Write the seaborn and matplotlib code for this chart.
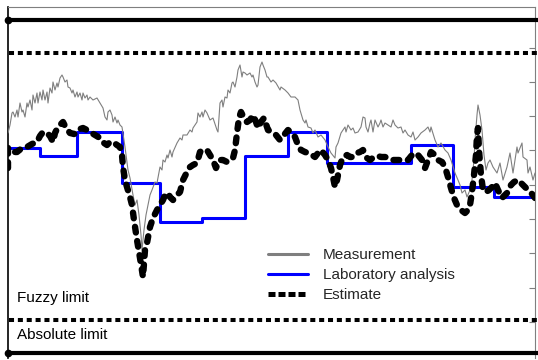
import numpy as np
import pandas as pd
import seaborn as sns
import matplotlib.pyplot as plt
from matplotlib.lines import Line2D

sns.set_style("white")
plt.rcParams["font.family"] = ["Liberation Sans", "DejaVu Sans"]

# ---- data -------------------------------------------------------------
# on-line measurement (time, value)
meas_t = [0, 2, 4, 5, 7, 9, 10, 12, 14, 15, 17, 19, 20, 22, 24, 25, 27, 29, 30, 32,
          34, 35, 37, 39, 40, 42, 44, 45, 47, 49, 50, 52, 54, 55, 57, 59, 60, 62, 64, 65,
          67, 69, 70, 72, 74, 75, 77, 79, 80, 82, 85, 89, 92, 95, 97, 99, 100, 102, 104, 105,
          107, 109, 110, 112, 114, 117, 120,
          122, 125, 127, 129, 131, 133, 134, 136, 138, 140, 142, 144, 147, 149, 152,
          154, 155, 157, 159, 160, 162, 164, 165, 169, 172, 174, 175, 179, 182, 184, 185, 189, 190,
          192, 194, 195, 197, 199, 202, 205, 209, 210, 212, 214, 215, 217, 219, 220, 222, 224, 225,
          227, 229, 230, 232, 234, 235, 237, 239, 242, 244, 245, 247, 249, 250, 252, 254, 255, 257,
          259,
          260, 263, 265, 268, 272, 273, 277, 280, 283, 287, 290, 292, 295, 297, 298, 300, 303, 305,
          307, 310, 313, 317, 320, 323, 327, 328, 330, 333, 337, 338, 340, 343, 345, 347, 350, 353,
          355, 357, 358, 360, 362, 363, 365, 367, 370, 372, 373, 375, 377, 380, 383, 385, 387, 390,
          393, 395, 397, 400, 403, 405, 407, 410, 413, 417, 420, 422, 423, 427, 430, 433, 437, 440,
          443,
          447, 450, 452, 454, 457, 459, 462, 464, 466, 467, 469, 470, 472, 474, 476, 478, 480, 482,
          485, 489, 492, 495, 499, 502, 505, 509, 510, 514, 515, 519, 520, 522, 525, 527]
meas_v = [66.0, 68.4, 72.0, 72.3, 70.8, 72.9, 70.8, 75.0, 72.3, 72.9, 70.8, 75.0, 73.8, 75.9,
          72.9, 77.4, 75.0, 78.0, 75.0, 78.3, 75.9, 78.9, 75.9, 78.3, 75.0, 79.5, 78.0, 81.3,
          78.9, 81.0, 79.8, 82.5, 83.4, 82.8, 81.3, 81.9, 79.8, 79.5, 78.0, 78.9, 76.8, 78.3,
          76.8, 78.0, 75.9, 78.0, 76.5, 77.4, 75.9, 76.8, 75.9, 76.5, 75.0, 73.5, 70.8, 69.9,
          72.3, 72.9, 71.4, 69.3, 70.8, 69.0, 69.9, 68.4, 67.8, 61.8, 54.9,
          52.5, 47.4, 44.4, 45.9, 41.4, 35.4, 30.9, 36.9, 41.4, 44.4, 47.4, 48.9, 51.3, 51.0, 55.8,
          54.9, 57.9, 57.3, 59.4, 58.5, 60.9, 58.8, 60.3, 63.0, 64.5, 63.9, 65.4, 65.4, 66.9, 66.3,
          67.5, 69.3, 72.0, 70.8, 72.3, 70.8, 72.9, 72.0, 69.9, 70.5, 66.9, 66.3, 75.0, 75.9, 73.8,
          76.8, 76.5, 78.9, 78.0, 81.0, 81.3, 79.8, 82.8, 84.9, 86.4, 82.8, 84.3, 84.0, 83.4, 84.0,
          82.8, 83.4, 81.3, 79.8, 80.4, 85.8, 87.3, 86.4, 84.9, 82.8,
          82.8, 81.3, 81.9, 81.0, 78.9, 79.8, 78.9, 78.0, 76.8, 76.8, 75.9, 72.9, 69.9, 69.0, 69.9,
          67.8, 67.5, 66.0, 66.9, 64.8, 65.4, 63.9, 61.8, 60.0, 58.5, 61.8, 63.0, 66.0, 67.8, 66.3,
          68.4, 66.9, 67.5, 66.0, 66.3, 67.8, 70.8, 70.5, 67.8, 66.3, 69.0, 69.9, 66.3, 69.9, 67.8,
          69.0, 69.9, 67.8, 69.0, 68.4, 67.8, 69.9, 68.4, 67.5, 67.8, 66.0, 66.9, 65.4, 64.8, 66.3,
          63.9, 64.8, 66.0, 66.9, 67.8, 66.3, 67.8, 63.9, 61.8, 63.0, 60.9, 60.0, 57.9,
          54.0, 51.9, 50.4, 48.0, 48.9, 46.8, 48.9, 51.9, 57.9, 63.9, 71.4, 74.4, 71.4, 66.9, 59.4,
          54.9, 57.0, 57.9, 55.8, 54.0, 57.0, 51.9, 55.8, 60.0, 54.0, 61.8, 60.0, 63.0, 58.8, 57.9,
          54.0, 55.8, 51.9, 54.0]

# laboratory analysis (value holds until the next sample)
lab_t = [0, 32, 69, 114, 152, 194, 237, 280, 319, 403, 445, 486, 527]
lab_v = [61.5, 59.1, 66.3, 51.0, 39.3, 40.5, 59.1, 66.3, 57.0, 62.4, 49.8, 46.8, 46.8]

# model estimate
est_t = [0, 0, 4, 9, 14, 19, 24, 29, 32, 35, 39, 42, 45, 47, 50, 53, 55, 58, 62, 66, 69, 72, 75,
         79, 82, 87, 92, 96, 99, 102, 105, 109, 112, 114, 115, 117, 119, 122, 124, 126, 129, 132,
         135, 137, 139, 142, 145, 149, 152, 155, 157, 160, 162, 165, 169, 172, 175, 179, 182, 185,
         189, 192, 195, 199, 202, 205, 208, 210, 212, 215, 219, 222, 225, 227, 229, 231, 233, 236,
         239, 242, 245, 248, 250, 253, 256, 260, 264, 268, 272, 276, 280, 284, 287, 290, 293, 297,
         300, 304, 307, 310, 313, 317, 320, 323, 325, 327, 329, 332, 335, 339, 342, 345, 349, 352,
         355, 359, 362, 366, 370, 373, 377, 381, 385, 390, 395, 400, 404, 407, 410, 414, 417, 420,
         423, 427, 430, 434, 437, 440, 443, 446, 449, 453, 457, 460, 462, 464, 466, 468, 469, 470,
         471, 473, 475, 478, 481, 484, 487, 490, 494, 497, 500, 503, 506, 510, 513, 517, 521, 524,
         527]
est_v = [55.5, 61.5, 60.3, 60.3, 61.5, 61.8, 62.7, 63.3, 65.1, 66.3, 66.0, 65.1, 63.3, 66.0,
         67.8, 68.7, 69.3, 67.5, 66.0, 65.7, 66.0, 67.2, 67.5, 66.9, 66.3, 65.4, 64.5, 63.0, 62.4,
         63.3, 63.3, 62.4, 61.8, 59.4, 55.8, 51.9, 49.8, 46.8, 44.4, 39.9, 33.9, 28.5, 22.8, 30.9,
         33.0, 37.8, 40.5, 42.9, 44.4, 45.9, 47.4, 48.0, 46.8, 45.9, 47.4, 48.3, 51.9, 54.3, 55.8,
         56.4, 57.0, 60.3, 60.9, 60.9, 59.4, 57.9, 55.5, 57.0, 57.9, 57.9, 57.3, 57.9, 58.5, 60.9,
         66.0, 70.5, 72.3, 70.5, 69.3, 69.9, 71.4, 69.3, 67.5, 69.3, 70.5, 66.9, 66.3, 65.4, 63.9,
         65.4, 66.9, 66.0, 64.8, 62.4, 60.9, 60.3, 60.0, 59.4, 58.8, 60.0, 60.9, 59.4, 57.9, 55.5,
         52.8, 49.8, 51.9, 56.4, 58.8, 59.4, 58.8, 58.8, 60.0, 60.3, 60.9, 58.5, 57.9, 58.8, 59.1,
         58.8, 58.8, 58.5, 57.9, 57.9, 57.9, 57.9, 59.4, 60.0, 59.4, 57.9, 55.5, 57.9, 60.3, 59.4,
         57.9, 57.3, 55.8, 52.8, 49.5, 46.5, 44.4, 42.9, 42.0, 42.9, 44.4, 48.3, 53.4, 59.4, 65.4,
         67.5, 60.9, 53.4, 48.9, 48.3, 48.9, 49.8, 51.0, 48.9, 46.5, 47.4, 48.3, 50.4, 51.3, 51.9,
         51.0, 49.8, 48.6, 47.7, 46.5]

absolute_limits = [0, 100]
fuzzy_limits = [10, 90]
labels = ["Measurement", "Laboratory analysis", "Estimate"]

meas = pd.DataFrame({"t": meas_t, "v": meas_v})
lab = pd.DataFrame({"t": lab_t, "v": lab_v})
est = pd.DataFrame({"t": est_t, "v": est_v})

# ---- figure -----------------------------------------------------------
fig = plt.figure(figsize=(5.38, 3.6), dpi=100)
ax = fig.add_axes([8 / 538, 2 / 360, 527 / 538, 351 / 360])

GRAY = "#7f7f7f"
BLUE = "#0000ff"

sns.lineplot(data=meas, x="t", y="v", ax=ax, color=GRAY, linewidth=0.8,
             estimator=None, sort=False, errorbar=None, zorder=3)
sns.lineplot(data=lab, x="t", y="v", ax=ax, color=BLUE, linewidth=2.2,
             drawstyle="steps-post", estimator=None, sort=False, errorbar=None, zorder=2)
sns.lineplot(data=est, x="t", y="v", ax=ax, color="black", linewidth=4.6,
             linestyle=(0, (0.9, 1.35)), dash_capstyle="round", solid_capstyle="round",
             solid_joinstyle="round", dash_joinstyle="round",
             estimator=None, sort=False, errorbar=None, zorder=4)

# limit lines
for lim in absolute_limits:
    ax.plot([0, 531], [lim, lim], color="black", linewidth=3.0, solid_capstyle="butt",
            clip_on=False, zorder=5)
    ax.plot([0], [lim], marker="o", markersize=4.5, color="black", clip_on=False, zorder=5)
for lim in fuzzy_limits:
    ax.plot([1, 531], [lim, lim], color="black", linewidth=2.9,
            linestyle=(0, (1.25, 0.95)), dash_capstyle="butt", clip_on=False, zorder=5)

ax.text(9, 16.4, "Fuzzy limit", fontsize=11, va="center", ha="left", color="black")
ax.text(9, 5.4, "Absolute limit", fontsize=11, va="center", ha="left", color="black")

ax.set_xlim(0, 527)
ax.set_ylim(-1.5, 103.8)
ax.set_xlabel("")
ax.set_ylabel("")
ax.set_xticks([])
ax.yaxis.tick_right()
ax.set_yticks([9.3, 19.6, 29.9, 40.2, 50.5, 60.8, 71.1, 81.4, 91.65])
ax.tick_params(axis="y", which="both", right=True, left=False, direction="in",
               length=4, width=0.8, color=GRAY, labelright=False, labelleft=False)

ax.spines["left"].set_color("black")
ax.spines["left"].set_linewidth(1.2)
ax.spines["top"].set_color(GRAY)
ax.spines["top"].set_linewidth(0.8)
ax.spines["right"].set_color(GRAY)
ax.spines["right"].set_linewidth(0.8)
ax.spines["bottom"].set_visible(False)

handles = [
    Line2D([], [], color=GRAY, linewidth=2.2),
    Line2D([], [], color=BLUE, linewidth=2.2),
    Line2D([], [], color="black", linewidth=3.6, linestyle=(0, (1.4, 0.6)),
           dash_capstyle="butt"),
]
ax.legend(handles, labels, loc="upper left", bbox_to_anchor=(268 / 538, 1 - 248 / 360),
          bbox_transform=fig.transFigure, frameon=False, fontsize=11,
          handlelength=2.62, handletextpad=0.98, labelspacing=0.40,
          borderpad=0, borderaxespad=0)

fig.savefig("out.png", dpi=100)
